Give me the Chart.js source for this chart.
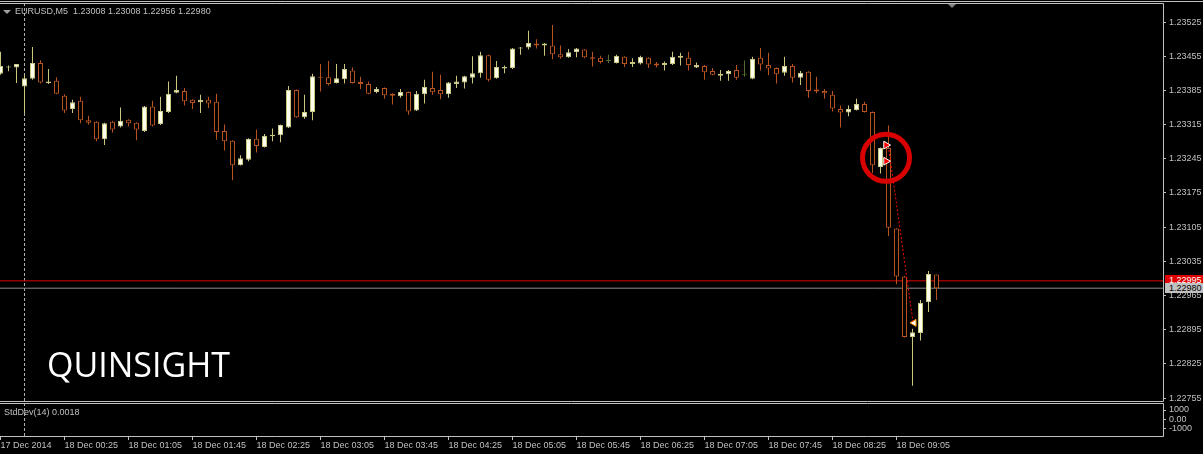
<!DOCTYPE html>
<html lang="en">
<head>
<meta charset="utf-8" />
<title>EURUSD,M5</title>
<script src="https://cdn.jsdelivr.net/npm/chart.js@4.4.1/dist/chart.umd.min.js"></script>
<style>
  html, body { margin: 0; background: #000; }
  #wrap { position: relative; width: 1203px; height: 454px; overflow: hidden; background: #000; font-family: 'Liberation Sans', sans-serif; }
  canvas { position: absolute; }
  #main { left: -20px; top: -20px; }
  #sub { left: -20px; top: 382px; }
  .txt { position: absolute; color: #c0c0c0; font-size: 9px; line-height: 11px; white-space: pre; }
  .tri { position: absolute; width: 0; height: 0; border-left: 4px solid transparent; border-right: 4px solid transparent; }
  .box { position: absolute; left: 1165px; width: 34px; padding-left: 4px; font-size: 9px; white-space: pre; }
  #mark { position: absolute; left: 47px; top: 347px; color: #fff; font: 34px/34px 'Open Sans', sans-serif; }
</style>
</head>
<body>
<div id="wrap">
  <canvas id="main" width="1223" height="444"></canvas>
  <canvas id="sub" width="1223" height="72"></canvas>
  <div class="tri" style="left:3px;top:10px;border-top:4px solid #a0a0a0"></div>
  <div class="txt" id="hdr" style="left:15px;top:6px"></div>
  <div class="tri" style="left:948px;top:4px;border-top:4px solid #808080"></div>
  <div class="txt" style="left:4px;top:407px">StdDev(14) 0.0018</div>
  <div class="box" id="askBox" style="top:275px;height:11px;line-height:11px;background:#e00000;color:#fff"></div>
  <div class="box" id="bidBox" style="top:283px;height:10px;line-height:10px;background:#c0c0c0;color:#000"></div>
  <div id="mark">QUINSIGHT</div>
</div>
<script>
// EURUSD M5 bars, 17 Dec 23:45 -> 18 Dec 09:30
const OPEN = [
  1.23419, 1.23432, 1.23432, 1.23393, 1.23409, 1.23441, 1.23400, 1.23405, 1.23374, 1.23347,
  1.23364, 1.23324, 1.23321, 1.23285, 1.23321, 1.23311, 1.23325, 1.23319, 1.23302, 1.23352,
  1.23316, 1.23341, 1.23380, 1.23384, 1.23366, 1.23361, 1.23366, 1.23362, 1.23302, 1.23282,
  1.23232, 1.23243, 1.23286, 1.23269, 1.23291, 1.23293, 1.23309, 1.23386, 1.23330, 1.23341,
  1.23413, 1.23412, 1.23400, 1.23408, 1.23426, 1.23402, 1.23398, 1.23382, 1.23390, 1.23378,
  1.23373, 1.23382, 1.23344, 1.23377, 1.23390, 1.23386, 1.23377, 1.23398, 1.23401, 1.23411,
  1.23420, 1.23457, 1.23410, 1.23430, 1.23431, 1.23471, 1.23473, 1.23481, 1.23477, 1.23477,
  1.23459, 1.23453, 1.23463, 1.23469, 1.23453, 1.23452, 1.23445, 1.23441, 1.23454, 1.23439,
  1.23440, 1.23452, 1.23440, 1.23437, 1.23439, 1.23452, 1.23452, 1.23432, 1.23435, 1.23425,
  1.23415, 1.23418, 1.23427, 1.23416, 1.23409, 1.23452, 1.23437, 1.23431, 1.23421, 1.23435,
  1.23411, 1.23423, 1.23387, 1.23384, 1.23376, 1.23347, 1.23340, 1.23345, 1.23357, 1.23341,
  1.23228, 1.23267, 1.23102, 1.23004, 1.22880, 1.22888, 1.22951, 1.23008,
];
const HIGH = [
  1.23464, 1.23436, 1.23439, 1.23417, 1.23474, 1.23447, 1.23429, 1.23412, 1.23377, 1.23366,
  1.23372, 1.23333, 1.23322, 1.23319, 1.23323, 1.23350, 1.23326, 1.23320, 1.23353, 1.23364,
  1.23372, 1.23403, 1.23415, 1.23390, 1.23367, 1.23376, 1.23372, 1.23378, 1.23315, 1.23283,
  1.23252, 1.23287, 1.23305, 1.23296, 1.23307, 1.23315, 1.23394, 1.23387, 1.23376, 1.23419,
  1.23439, 1.23445, 1.23439, 1.23439, 1.23432, 1.23413, 1.23403, 1.23392, 1.23391, 1.23379,
  1.23388, 1.23383, 1.23384, 1.23407, 1.23423, 1.23417, 1.23402, 1.23415, 1.23415, 1.23455,
  1.23464, 1.23458, 1.23445, 1.23436, 1.23472, 1.23474, 1.23507, 1.23490, 1.23482, 1.23519,
  1.23477, 1.23470, 1.23472, 1.23470, 1.23464, 1.23456, 1.23458, 1.23458, 1.23455, 1.23451,
  1.23456, 1.23453, 1.23443, 1.23444, 1.23464, 1.23462, 1.23464, 1.23442, 1.23437, 1.23431,
  1.23427, 1.23427, 1.23437, 1.23446, 1.23454, 1.23472, 1.23462, 1.23432, 1.23454, 1.23439,
  1.23425, 1.23424, 1.23413, 1.23388, 1.23384, 1.23354, 1.23354, 1.23368, 1.23362, 1.23342,
  1.23268, 1.23313, 1.23103, 1.23005, 1.22897, 1.22956, 1.23015, 1.23008,
];
const LOW = [
  1.23417, 1.23424, 1.23400, 1.23339, 1.23407, 1.23399, 1.23398, 1.23377, 1.23339, 1.23339,
  1.23318, 1.23315, 1.23281, 1.23273, 1.23299, 1.23309, 1.23311, 1.23283, 1.23300, 1.23311,
  1.23314, 1.23339, 1.23379, 1.23354, 1.23347, 1.23339, 1.23349, 1.23284, 1.23262, 1.23201,
  1.23231, 1.23240, 1.23258, 1.23268, 1.23281, 1.23279, 1.23308, 1.23329, 1.23327, 1.23324,
  1.23383, 1.23395, 1.23399, 1.23399, 1.23399, 1.23388, 1.23377, 1.23379, 1.23368, 1.23356,
  1.23370, 1.23335, 1.23343, 1.23358, 1.23376, 1.23367, 1.23370, 1.23390, 1.23389, 1.23399,
  1.23411, 1.23403, 1.23409, 1.23420, 1.23429, 1.23458, 1.23469, 1.23471, 1.23456, 1.23449,
  1.23450, 1.23452, 1.23453, 1.23451, 1.23434, 1.23440, 1.23441, 1.23440, 1.23433, 1.23433,
  1.23438, 1.23431, 1.23432, 1.23426, 1.23437, 1.23436, 1.23426, 1.23431, 1.23407, 1.23416,
  1.23405, 1.23405, 1.23407, 1.23413, 1.23408, 1.23426, 1.23416, 1.23399, 1.23415, 1.23401,
  1.23396, 1.23370, 1.23379, 1.23368, 1.23342, 1.23309, 1.23332, 1.23344, 1.23340, 1.23216,
  1.23215, 1.23087, 1.22988, 1.22879, 1.22780, 1.22873, 1.22931, 1.22956,
];
const CLOSE = [
  1.23435, 1.23434, 1.23439, 1.23410, 1.23441, 1.23401, 1.23403, 1.23378, 1.23344, 1.23361,
  1.23324, 1.23319, 1.23285, 1.23318, 1.23305, 1.23323, 1.23318, 1.23305, 1.23352, 1.23313,
  1.23343, 1.23378, 1.23386, 1.23363, 1.23359, 1.23366, 1.23358, 1.23300, 1.23281, 1.23232,
  1.23246, 1.23286, 1.23271, 1.23292, 1.23294, 1.23314, 1.23386, 1.23330, 1.23341, 1.23414,
  1.23411, 1.23398, 1.23410, 1.23429, 1.23400, 1.23398, 1.23378, 1.23388, 1.23375, 1.23374,
  1.23382, 1.23342, 1.23378, 1.23392, 1.23381, 1.23377, 1.23401, 1.23403, 1.23414, 1.23420,
  1.23457, 1.23407, 1.23433, 1.23433, 1.23471, 1.23473, 1.23482, 1.23477, 1.23481, 1.23459,
  1.23453, 1.23463, 1.23471, 1.23453, 1.23450, 1.23443, 1.23445, 1.23456, 1.23439, 1.23443,
  1.23454, 1.23438, 1.23436, 1.23441, 1.23454, 1.23456, 1.23437, 1.23437, 1.23422, 1.23417,
  1.23419, 1.23425, 1.23411, 1.23416, 1.23450, 1.23438, 1.23430, 1.23418, 1.23435, 1.23411,
  1.23421, 1.23384, 1.23383, 1.23379, 1.23348, 1.23340, 1.23347, 1.23357, 1.23341, 1.23232,
  1.23267, 1.23104, 1.23004, 1.22880, 1.22890, 1.22950, 1.23009, 1.22980,
];

const PRICE_TICKS = [1.23525, 1.23455, 1.23385, 1.23315, 1.23245, 1.23175, 1.23105, 1.23035, 1.22965, 1.22895, 1.22825, 1.22755];
const PRICE_MIN = 1.22749;
const PRICE_MAX = 1.23564;

const TIME_TICK_INDEX = [0, 8, 16, 24, 32, 40, 48, 56, 64, 72, 80, 88, 96, 104, 112];
const TIME_LABELS = [
  '17 Dec 2014', '18 Dec 00:25', '18 Dec 01:05', '18 Dec 01:45', '18 Dec 02:25',
  '18 Dec 03:05', '18 Dec 03:45', '18 Dec 04:25', '18 Dec 05:05', '18 Dec 05:45',
  '18 Dec 06:25', '18 Dec 07:05', '18 Dec 07:45', '18 Dec 08:25', '18 Dec 09:05',
];
const DAY_SEPARATOR_INDEX = 3; // 18 Dec 00:00

const ASK = 1.22995;
const BID = 1.22980;

// trade marks (bar index, price)
const ENTRY_X = [110.69, 110.69];
const ENTRY_PRICE = [1.23273, 1.23240];
const TRADE_LINE_X = [111.06, 114.06];
const TRADE_LINE_PRICE = [1.23263, 1.22911];
const EXIT_X = [114.19];
const EXIT_PRICE = [1.22909];
const CIRCLE_X = [110.69];
const CIRCLE_PRICE = [1.23247];

const SUB_TICKS = [1000, 0, -1000];
const SUB_TICK_LABELS = ['1000', '0.00', '-1000'];
const SUB_MIN = -1737;
const SUB_MAX = 1737;

// 8 px per bar, chart area 1163 px wide
const X_MIN = -0.0625;
const X_MAX = X_MIN + 1163 / 8;

const BULL_LINE = '#c9c77f';
const BULL_FILL = '#ffffee';
const BEAR_LINE = '#b8521e';
const BEAR_FILL = '#000000';
const DOJI_LINE = '#556b2f';
const FRAME = '#c0c0c0';

Chart.defaults.font.family = "'Liberation Sans', sans-serif";
Chart.defaults.font.size = 9;
Chart.defaults.color = '#c0c0c0';

const fmt = (v) => v.toFixed(5);
const last = OPEN.length - 1;
document.getElementById('hdr').textContent =
  `EURUSD,M5  ${fmt(OPEN[last])} ${fmt(HIGH[last])} ${fmt(LOW[last])} ${fmt(CLOSE[last])}`;
document.getElementById('askBox').textContent = fmt(ASK);
document.getElementById('bidBox').textContent = fmt(BID);

const lineColor = OPEN.map((o, i) => (CLOSE[i] > o ? BULL_LINE : CLOSE[i] < o ? BEAR_LINE : DOJI_LINE));
const fillColor = OPEN.map((o, i) => (CLOSE[i] > o ? BULL_FILL : CLOSE[i] < o ? BEAR_FILL : DOJI_LINE));

const framePlugin = {
  id: 'frame',
  afterDraw(chart, args, opts) {
    const { ctx, chartArea: a } = chart;
    const t = Math.floor(a.top) + 0.5;
    const b = Math.floor(a.bottom) + 0.5;
    const r = Math.floor(a.right) + 0.5;
    ctx.save();
    ctx.strokeStyle = FRAME;
    ctx.lineWidth = 1;
    ctx.beginPath();
    ctx.moveTo(0, t); ctx.lineTo(r, t); ctx.lineTo(r, b); ctx.lineTo(0, b);
    if (opts.windowTop != null) {
      ctx.moveTo(0, opts.windowTop + 0.5);
      ctx.lineTo(chart.width, opts.windowTop + 0.5);
    }
    ctx.stroke();
    ctx.restore();
  },
};

const hline = (price, color) => ({
  type: 'line',
  data: [{ x: X_MIN, y: price }, { x: X_MAX, y: price }],
  borderColor: color,
  borderWidth: 1,
  pointRadius: 0,
  order: 3,
});

const separator = (lo, hi) => ({
  type: 'line',
  data: [{ x: DAY_SEPARATOR_INDEX, y: lo }, { x: DAY_SEPARATOR_INDEX, y: hi }],
  borderColor: '#b0b0b0',
  borderWidth: 1,
  borderDash: [3, 2],
  pointRadius: 0,
  order: 3,
});

new Chart(document.getElementById('main'), {
  type: 'bar',
  data: {
    datasets: [
      {
        label: 'body',
        data: OPEN.map((o, i) => ({ x: i, y: [o, CLOSE[i]] })),
        backgroundColor: fillColor,
        borderColor: lineColor,
        borderWidth: 1,
        borderSkipped: false,
        barThickness: 5,
        minBarLength: 1,
        inflateAmount: 0,
        grouped: false,
        order: 1,
      },
      {
        label: 'wick',
        data: LOW.map((l, i) => ({ x: i, y: [l, HIGH[i]] })),
        backgroundColor: lineColor,
        borderWidth: 0,
        barThickness: 1,
        inflateAmount: 0,
        grouped: false,
        order: 2,
      },
      hline(ASK, '#e00000'),
      hline(BID, '#8c8c8c'),
      separator(PRICE_MIN, PRICE_MAX),
      {
        type: 'line',
        data: TRADE_LINE_X.map((x, i) => ({ x, y: TRADE_LINE_PRICE[i] })),
        borderColor: '#ff0000',
        borderWidth: 1,
        borderDash: [2, 2],
        pointRadius: 0,
        order: 0,
      },
      {
        type: 'line',
        data: CIRCLE_X.map((x, i) => ({ x, y: CIRCLE_PRICE[i] })),
        showLine: false,
        pointStyle: 'circle',
        pointRadius: 23.5,
        pointBorderWidth: 5,
        pointBorderColor: '#d80000',
        pointBackgroundColor: 'rgba(0,0,0,0)',
        order: 0,
      },
      {
        type: 'line',
        data: ENTRY_X.map((x, i) => ({ x, y: ENTRY_PRICE[i] })),
        showLine: false,
        pointStyle: 'triangle',
        pointRotation: 90,
        pointRadius: 4.5,
        pointBorderWidth: 1,
        pointBorderColor: '#ffffff',
        pointBackgroundColor: '#ff0000',
        order: 0,
      },
      {
        type: 'line',
        data: EXIT_X.map((x, i) => ({ x, y: EXIT_PRICE[i] })),
        showLine: false,
        pointStyle: 'triangle',
        pointRotation: -90,
        pointRadius: 4,
        pointBorderWidth: 1,
        pointBorderColor: '#ff9900',
        pointBackgroundColor: '#ffffff',
        order: 0,
      },
    ],
  },
  options: {
    responsive: false,
    animation: false,
    devicePixelRatio: 1,
    events: [],
    layout: { autoPadding: false, padding: { left: 20, top: 23, bottom: 23, right: 0 } },
    plugins: { legend: { display: false }, tooltip: { enabled: false }, frame: { windowTop: 21 } },
    scales: {
      x: { type: 'linear', display: false, min: X_MIN, max: X_MAX, offset: false },
      y: {
        type: 'linear',
        position: 'right',
        min: PRICE_MIN,
        max: PRICE_MAX,
        afterBuildTicks: (s) => { s.ticks = PRICE_TICKS.map((value) => ({ value })); },
        afterFit: (s) => { s.width = 40; },
        border: { display: false },
        grid: { drawOnChartArea: false, drawTicks: true, tickLength: 3, color: FRAME },
        ticks: { padding: 3, callback: (v) => fmt(v) },
      },
    },
  },
  plugins: [framePlugin],
});

new Chart(document.getElementById('sub'), {
  type: 'line',
  data: { datasets: [separator(SUB_MIN, SUB_MAX)] },
  options: {
    responsive: false,
    animation: false,
    devicePixelRatio: 1,
    events: [],
    layout: { autoPadding: false, padding: { left: 20, top: 21, bottom: 0, right: 0 } },
    plugins: { legend: { display: false }, tooltip: { enabled: false } },
    scales: {
      x: {
        type: 'linear',
        min: X_MIN,
        max: X_MAX,
        offset: false,
        afterBuildTicks: (s) => { s.ticks = TIME_TICK_INDEX.map((value) => ({ value })); },
        afterFit: (s) => { s.height = 18; },
        border: { display: false },
        grid: { drawOnChartArea: false, drawTicks: true, tickLength: 4, color: FRAME },
        ticks: {
          padding: 0,
          align: 'start',
          autoSkip: false,
          maxRotation: 0,
          minRotation: 0,
          callback: (v) => TIME_LABELS[TIME_TICK_INDEX.indexOf(v)],
        },
      },
      y: {
        type: 'linear',
        position: 'right',
        min: SUB_MIN,
        max: SUB_MAX,
        afterBuildTicks: (s) => { s.ticks = SUB_TICKS.map((value) => ({ value })); },
        afterFit: (s) => { s.width = 40; },
        border: { display: false },
        grid: { drawOnChartArea: false, drawTicks: true, tickLength: 3, color: FRAME },
        ticks: { padding: 3, callback: (v) => SUB_TICK_LABELS[SUB_TICKS.indexOf(v)] },
      },
    },
  },
  plugins: [framePlugin],
});
</script>
</body>
</html>
